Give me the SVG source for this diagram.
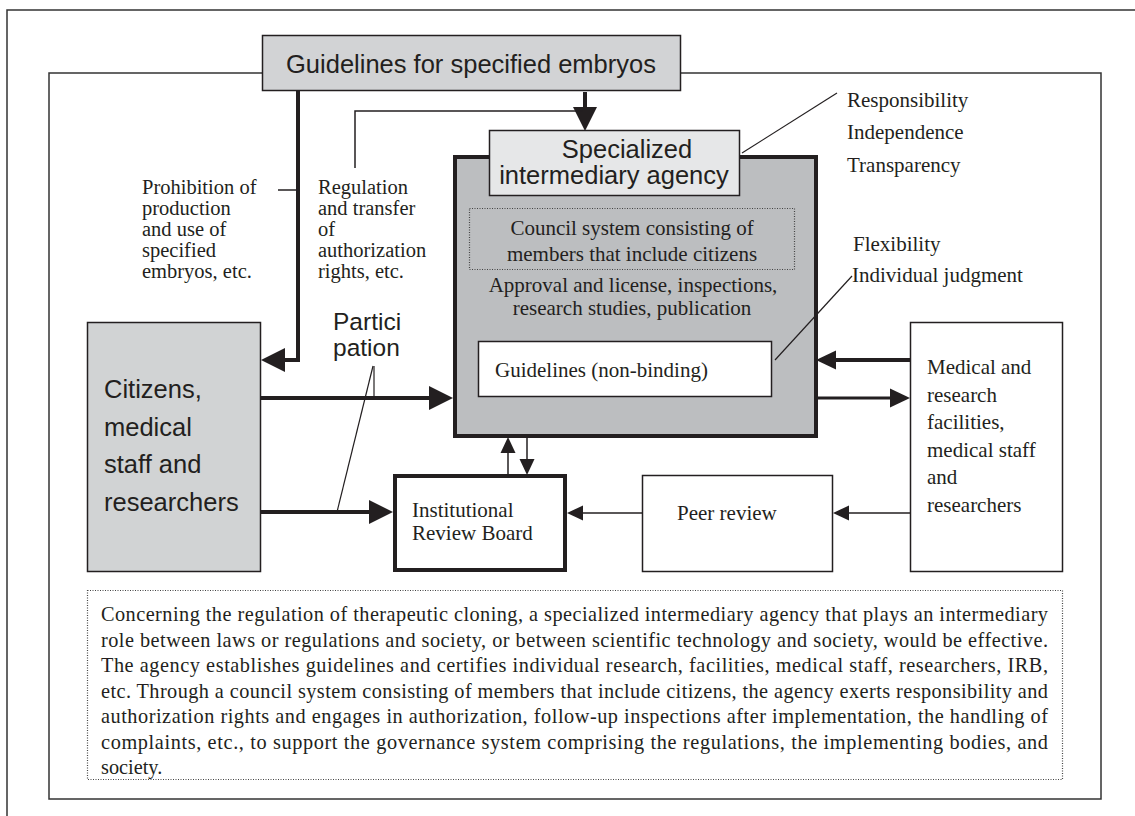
<svg xmlns="http://www.w3.org/2000/svg" width="1135" height="816" viewBox="0 0 1135 816">
<style>
.serif{font-family:"Liberation Serif","Times New Roman",serif;fill:#231f20}
.sans{font-family:"Liberation Sans",Arial,sans-serif;fill:#231f20}
.s21{font-size:21px}
.s205{font-size:20.5px}
.s20{font-size:20.3px}
.big{font-size:25.5px}
.part{font-size:24.5px}
.box{stroke:#231f20;stroke-width:1.5}
.thick{stroke:#231f20;stroke-width:4;fill:none}
.med{stroke:#231f20;stroke-width:3;fill:none}
.thin{stroke:#231f20;stroke-width:1.5;fill:none}
.hair{stroke:#231f20;stroke-width:1.2;fill:none}
.dot{fill:none;stroke:#444;stroke-width:1.2;stroke-dasharray:1 1.5}
</style>
<defs>
<marker id="ahBig" markerUnits="userSpaceOnUse" markerWidth="24" markerHeight="24" refX="0" refY="12" orient="auto" overflow="visible"><path d="M0,0 L24,12 L0,24 Z" fill="#231f20"/></marker>
<marker id="ahMid" markerUnits="userSpaceOnUse" markerWidth="20" markerHeight="20" refX="0" refY="9.5" orient="auto" overflow="visible"><path d="M0,0 L20,9.5 L0,19 Z" fill="#231f20"/></marker>
<marker id="ahSmall" markerUnits="userSpaceOnUse" markerWidth="16" markerHeight="16" refX="0" refY="7.5" orient="auto" overflow="visible"><path d="M0,0 L16,7.5 L0,15 Z" fill="#231f20"/></marker>
</defs>
<rect width="1135" height="816" fill="#fff"/>
<g id="frames">
<rect x="7" y="10" width="1140" height="820" fill="none" stroke="#333" stroke-width="1.5"/>
<rect x="49" y="73" width="1052" height="726" fill="none" stroke="#333" stroke-width="1.5"/>
</g>
<g id="guidelines-embryos">
<rect x="262.5" y="35.5" width="418" height="55" fill="#d2d3d5" class="box" stroke-width="2"/>
<text class="sans big" x="471" y="73" text-anchor="middle">Guidelines for specified embryos</text>
</g>
<g id="agency">
<rect x="455" y="157" width="361" height="279" fill="#bcbec0" stroke="#231f20" stroke-width="4"/>
<rect x="469.5" y="208.5" width="325" height="61" class="dot"/>
<text class="serif s21" x="632" y="235" text-anchor="middle">Council system consisting of</text>
<text class="serif s21" x="632" y="261" text-anchor="middle">members that include citizens</text>
<text class="serif s21" x="633" y="292" text-anchor="middle">Approval and license, inspections,</text>
<text class="serif s21" x="632" y="315" text-anchor="middle">research studies, publication</text>
</g>
<g id="agency-label">
<rect x="489.5" y="130.5" width="250" height="65" fill="#e6e7e8" class="box" stroke-width="2"/>
<text class="sans big" x="627" y="158" text-anchor="middle">Specialized</text>
<text class="sans big" x="614" y="184" text-anchor="middle">intermediary agency</text>
</g>
<g id="guidelines-nonbinding">
<rect x="478.5" y="341.5" width="293" height="55" fill="#fff" class="box" stroke-width="2"/>
<text class="serif s21" x="495" y="377">Guidelines (non-binding)</text>
</g>
<g id="citizens">
<rect x="87.5" y="322.5" width="173" height="249" fill="#d1d3d4" class="box" stroke-width="2"/>
<text class="sans big" x="104" y="398">Citizens,</text>
<text class="sans big" x="104" y="436">medical</text>
<text class="sans big" x="104" y="473">staff and</text>
<text class="sans big" x="104" y="511">researchers</text>
</g>
<g id="participation-label">
<text class="sans part" x="333" y="330">Partici</text>
<text class="sans part" x="333" y="356">pation</text>
</g>
<g id="irb">
<rect x="395" y="476" width="170" height="94" fill="#fff" stroke="#231f20" stroke-width="4"/>
<text class="serif s21" x="412" y="517">Institutional</text>
<text class="serif s21" x="412" y="540">Review Board</text>
</g>
<g id="peer-review">
<rect x="642.5" y="475.5" width="190" height="96" fill="#fff" class="box"/>
<text class="serif s21" x="677" y="520">Peer review</text>
</g>
<g id="medical">
<rect x="910.5" y="322.5" width="152" height="249" fill="#fff" class="box"/>
<text class="serif s21" x="927" y="374">Medical and</text>
<text class="serif s21" x="927" y="402">research</text>
<text class="serif s21" x="927" y="429">facilities,</text>
<text class="serif s21" x="927" y="457">medical staff</text>
<text class="serif s21" x="927" y="484">and</text>
<text class="serif s21" x="927" y="512">researchers</text>
</g>
<g id="labels">
<text class="serif s205" x="142" y="194">Prohibition of</text>
<text class="serif s205" x="142" y="215">production</text>
<text class="serif s205" x="142" y="236">and use of</text>
<text class="serif s205" x="142" y="257">specified</text>
<text class="serif s205" x="142" y="278">embryos, etc.</text>
<text class="serif s205" x="318" y="194">Regulation</text>
<text class="serif s205" x="318" y="215">and transfer</text>
<text class="serif s205" x="318" y="236">of</text>
<text class="serif s205" x="318" y="257">authorization</text>
<text class="serif s205" x="318" y="278">rights, etc.</text>
<text class="serif s21" x="847" y="107">Responsibility</text>
<text class="serif s21" x="847" y="139">Independence</text>
<text class="serif s21" x="847" y="172">Transparency</text>
<text class="serif s21" x="853" y="251">Flexibility</text>
<text class="serif s21" x="852" y="282">Individual judgment</text>
</g>
<g id="summary">
<rect x="87.5" y="590.5" width="975" height="189" class="dot"/>
<text class="serif s20" x="101" y="621" textLength="947" lengthAdjust="spacing">Concerning the regulation of therapeutic cloning, a specialized intermediary agency that plays an intermediary</text>
<text class="serif s20" x="101" y="646.5" textLength="947" lengthAdjust="spacing">role between laws or regulations and society, or between scientific technology and society, would be effective.</text>
<text class="serif s20" x="101" y="672" textLength="947" lengthAdjust="spacing">The agency establishes guidelines and certifies individual research, facilities, medical staff, researchers, IRB,</text>
<text class="serif s20" x="101" y="697.5" textLength="947" lengthAdjust="spacing">etc. Through a council system consisting of members that include citizens, the agency exerts responsibility and</text>
<text class="serif s20" x="101" y="723" textLength="947" lengthAdjust="spacing">authorization rights and engages in authorization, follow-up inspections after implementation, the handling of</text>
<text class="serif s20" x="101" y="748.5" textLength="947" lengthAdjust="spacing">complaints, etc., to support the governance system comprising the regulations, the implementing bodies, and</text>
<text class="serif s20" x="101" y="774">society.</text>
</g>
<g id="connectors">
<path class="thick" d="M298,91 V360 H285" marker-end="url(#ahBig)"/>
<path class="thick" d="M585,92 V107" marker-end="url(#ahBig)"/>
<path class="thin" d="M278,190 H298"/>
<path class="thin" d="M355,168 V111 H583"/>
<path class="thick" d="M261,398 H429" marker-end="url(#ahBig)"/>
<path class="thick" d="M261,512 H369" marker-end="url(#ahBig)"/>
<path class="hair" d="M374,366 V398"/>
<path class="hair" d="M373,366 L337,512"/>
<path class="thick" d="M910,360 H836" marker-end="url(#ahMid)"/>
<path class="med" d="M818,398 H890" marker-end="url(#ahMid)"/>
<path class="thin" d="M508,474 V453" marker-end="url(#ahSmall)"/>
<path class="thin" d="M527,438 V459" marker-end="url(#ahSmall)"/>
<path class="thin" d="M642,513 H583" marker-end="url(#ahSmall)"/>
<path class="thin" d="M910,513 H849" marker-end="url(#ahSmall)"/>
<path class="hair" d="M742,153 L837,93"/>
<path class="hair" d="M775,360 L852,276"/>
</g>
</svg>
